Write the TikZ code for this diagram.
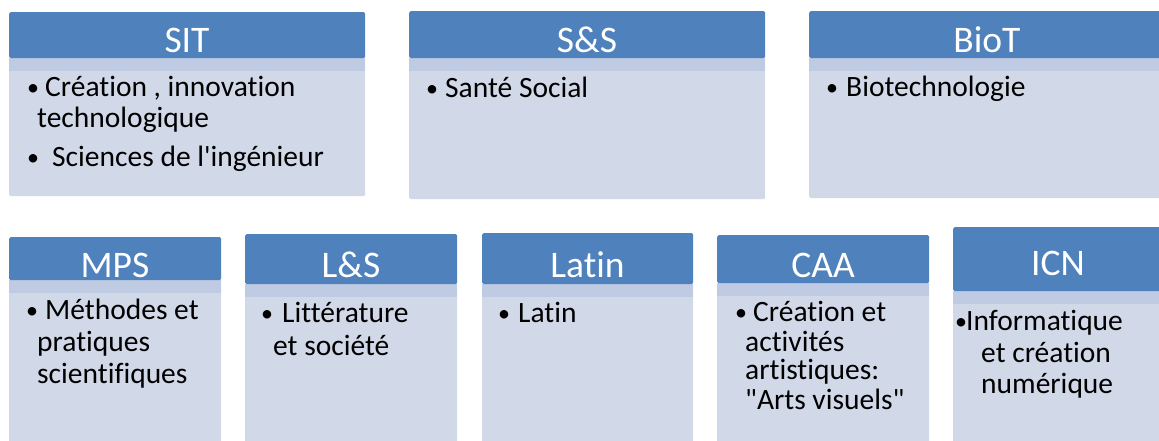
\documentclass[tikz,border=0pt]{standalone}
\usepackage{fontspec}
\setmainfont{Carlito}[Ligatures={TeXOff,NoCommon,NoContextual}]
\definecolor{headblue}{HTML}{4F81BD}
\definecolor{bodyfill}{HTML}{D1D9E8}
\definecolor{bandfill}{HTML}{BECBE2}
\tikzset{
  head/.style={fill=headblue, draw=none, anchor=north west, inner sep=0pt, rounded corners=1.5pt},
  bodybox/.style={fill=bodyfill, draw=none, anchor=north west, inner sep=0pt, rounded corners=1.5pt},
  band/.style={fill=bandfill, draw=none, anchor=north west, inner sep=0pt, minimum height=13pt},
  htext/.style={anchor=base, inner sep=0pt, text=white, font=\fontsize{37.5}{40}\selectfont},
  bul/.style={anchor=base west, inner sep=0pt, font=\fontsize{24}{30}\selectfont},
  txt/.style={anchor=base west, inner sep=0pt, font=\fontsize{29.5}{32}\selectfont},
}
\begin{document}
\begin{tikzpicture}[x=1pt,y=-1pt]
\useasboundingbox (0,0) rectangle (1159,441);
\clip (0,0) rectangle (1159,441);
% ---------- SIT ----------
\node[bodybox, minimum width=356, minimum height=139] (sitb) at (9,57) {};
\node[band, minimum width=356] (sitband) at (9,58) {};
\node[head, minimum width=356, minimum height=46] (sith) at (9,12) {};
\node[htext] (sitt) at (187,53) {SIT};
\node[bul] (sitb1) at (27,96) {•};
\node[txt] (sit1) at (45,97) {Création , innovation};
\node[txt] (sit2) at (37,128) {technologique};
\node[bul] (sitb2) at (27,165) {•};
\node[txt] (sit3) at (52,166) {Sciences de l'ingénieur};
% ---------- S&S ----------
\node[bodybox, minimum width=356, minimum height=142] (ssb) at (409,57) {};
\node[band, minimum width=356] (ssband) at (409,58) {};
\node[head, minimum width=356, minimum height=47] (ssh) at (409,11) {};
\node[htext] (sst) at (587,53) {S\&S};
\node[bul] (ssb1) at (426,97) {•};
\node[txt] (ss1) at (445,98) {Santé Social};
% ---------- BioT ----------
\node[bodybox, minimum width=360, minimum height=141] (biob) at (809,57) {};
\node[band, minimum width=360] (bioband) at (809,58) {};
\node[head, minimum width=360, minimum height=47] (bioh) at (809,11) {};
\node[htext] (biot) at (987,53) {BioT};
\node[bul] (biob1) at (826,96) {•};
\node[txt] (bio1) at (846,97) {Biotechnologie};
% ---------- MPS ----------
\node[bodybox, minimum width=212, minimum height=180] (mpsb) at (9,279) {};
\node[band, minimum width=212] (mpsband) at (9,280) {};
\node[head, minimum width=212, minimum height=43] (mpsh) at (9,237) {};
\node[htext] (mpst) at (115,277) {MPS};
\node[bul] (mpsb1) at (26,318) {•};
\node[txt] (mps1) at (45,319) {Méthodes et};
\node[txt] (mps2) at (37,351) {pratiques};
\node[txt] (mps3) at (37,383) {scientifiques};
% ---------- L&S ----------
\node[bodybox, minimum width=212, minimum height=180] (lsb) at (245,283) {};
\node[band, minimum width=212] (lsband) at (245,284) {};
\node[head, minimum width=212, minimum height=50] (lsh) at (245,234) {};
\node[htext] (lst) at (351,277) {L\&S};
\node[bul] (lsb1) at (261,321) {•};
\node[txt] (ls1) at (282,322) {Littérature};
\node[txt] (ls2) at (273,355) {et société};
% ---------- Latin ----------
\node[bodybox, minimum width=211, minimum height=180] (latb) at (482,283) {};
\node[band, minimum width=211] (latband) at (482,284) {};
\node[head, minimum width=211, minimum height=51] (lath) at (482,233) {};
\node[htext] (latt) at (587.5,277) {Latin};
\node[bul] (latb1) at (498,321) {•};
\node[txt] (lat1) at (518,322) {Latin};
% ---------- CAA ----------
\node[bodybox, minimum width=212, minimum height=180] (caab) at (717,282) {};
\node[band, minimum width=212] (caaband) at (717,283) {};
\node[head, minimum width=212, minimum height=48] (caah) at (717,235) {};
\node[htext] (caat) at (823,277) {CAA};
\node[bul] (caab1) at (735,320) {•};
\node[txt] (caa1) at (753,321) {Création et};
\node[txt] (caa2) at (745,351) {activités};
\node[txt] (caa3) at (745,379) {artistiques:};
\node[txt] (caa4) at (745,409) {"Arts visuels"};
% ---------- ICN ----------
\node[bodybox, minimum width=220, minimum height=180] (icnb) at (953,290) {};
\node[band, minimum width=220] (icnband) at (953,291) {};
\node[head, minimum width=220, minimum height=64] (icnh) at (953,227) {};
\node[htext] (icnt) at (1058,275) {ICN};
\node[bul] (icnb1) at (955,329) {•};
\node[txt] (icn1) at (966,330) {Informatique};
\node[txt] (icn2) at (981,362) {et création};
\node[txt] (icn3) at (981,393) {numérique};
\end{tikzpicture}
\end{document}
